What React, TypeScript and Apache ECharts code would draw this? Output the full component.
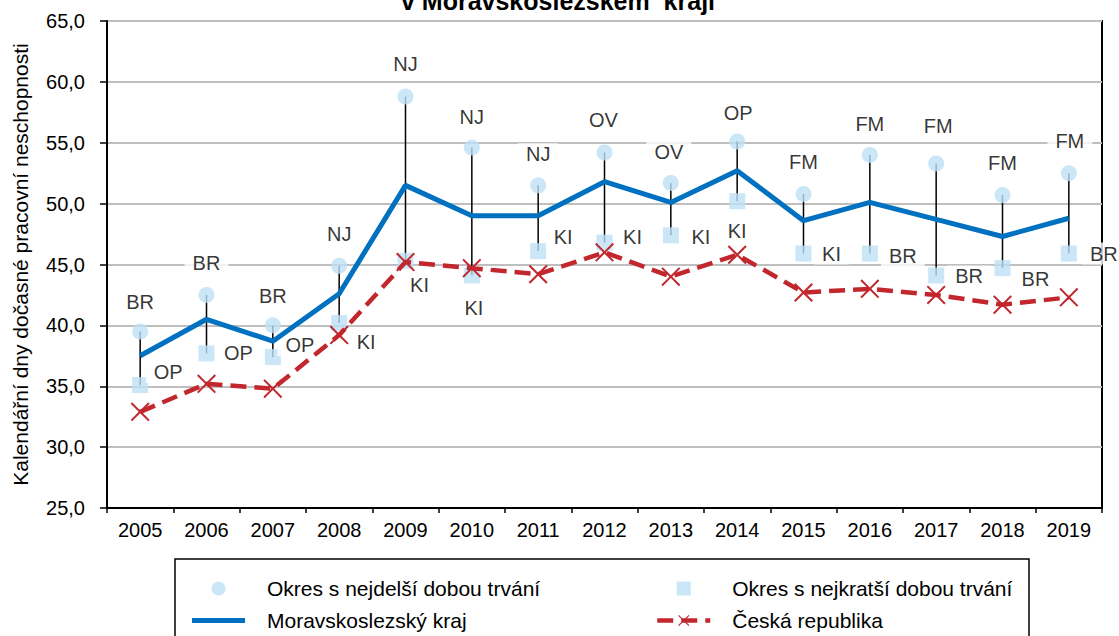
import React, { useEffect, useRef } from "react";
import * as echarts from "echarts";

const years = ["2005", "2006", "2007", "2008", "2009", "2010", "2011", "2012", "2013", "2014", "2015", "2016", "2017", "2018", "2019"];
const maxVals = [39.5, 42.5, 40.0, 44.9, 58.8, 54.6, 51.5, 54.2, 51.7, 55.1, 50.8, 54.0, 53.3, 50.7, 52.5];
const minVals = [35.1, 37.7, 37.4, 40.2, 45.3, 44.1, 46.1, 46.8, 47.4, 50.2, 45.9, 45.9, 44.1, 44.7, 45.9];
const mskVals = [37.5, 40.5, 38.7, 42.6, 51.5, 49.0, 49.0, 51.8, 50.1, 52.7, 48.6, 50.1, 48.7, 47.3, 48.8];
const crVals = [32.9, 35.2, 34.8, 39.2, 45.2, 44.7, 44.2, 46.0, 44.0, 45.8, 42.7, 43.0, 42.5, 41.7, 42.3];
const maxDistricts = ["BR", "BR", "BR", "NJ", "NJ", "NJ", "NJ", "OV", "OV", "OP", "FM", "FM", "FM", "FM", "FM"];
const minDistricts = ["OP", "OP", "OP", "KI", "KI", "KI", "KI", "KI", "KI", "KI", "KI", "BR", "BR", "BR", "BR"];

const NAME_MAX = "Okres s nejdelší dobou trvání";
const NAME_MIN = "Okres s nejkratší dobou trvání";
const NAME_MSK = "Moravskoslezský kraj";
const NAME_CR = "Česká republika";

// label nudges (layout only)
const maxLabelNudge: [number, number][] = [
  [0, -29], [0, -32], [0, -29], [0, -32], [0, -32], [0, -31], [0, -31], [-1, -32],
  [-2, -31], [1, -29], [0, -32], [0, -31], [2, -37], [0, -32], [1, -32],
];
const minLabelNudge: [number, number][] = [
  [28, -13], [32, 0], [27, -12], [27, 19], [14, 24], [2, 33], [25, -14], [28, -6],
  [30, 2], [0, 30], [28, 0], [33, 2], [33, 1], [33, 11], [35, 0],
];

const FONT = '"Liberation Sans", Arial, sans-serif';
const LIGHT = "#BDE0F5";
const BLUE = "#0070C0";
const RED = "#C1272D";
const XPATH =
  "path://M1.5,0 L10,8.5 L18.5,0 L20,1.5 L11.5,10 L20,18.5 L18.5,20 L10,11.5 L1.5,20 L0,18.5 L8.5,10 L0,1.5 Z";

export default function App() {
  const ref = useRef<HTMLDivElement>(null);
  useEffect(() => {
    if (!ref.current) return;
    const chart = echarts.init(ref.current, undefined, { renderer: "svg" });
    const labelBase = {
      show: true,
      position: "inside",
      fontSize: 20,
      fontFamily: FONT,
      color: "#000",
      backgroundColor: "#fff",
      padding: [1, 8],
    };
    const legendText = { fontSize: 21, fontFamily: FONT, color: "#000", lineHeight: 20, padding: [0, 0, 0, 17] };
    const legendBase = {
      orient: "vertical",
      top: 578,
      padding: 0,
      itemWidth: 53,
      itemHeight: 14,
      itemGap: 11,
      textStyle: legendText,
      selectedMode: false,
    };
    chart.setOption({
      animation: false,
      textStyle: { fontFamily: FONT },
      grid: { left: 107, right: 17, top: 21, bottom: 128, show: true, borderColor: "#000", borderWidth: 2 },
      xAxis: {
        type: "category",
        data: years,
        boundaryGap: true,
        axisLine: { lineStyle: { color: "#000", width: 2 } },
        axisTick: { show: true, length: 5, lineStyle: { color: "#000", width: 1.5 } },
        axisLabel: { color: "#000", fontSize: 20, fontFamily: FONT, margin: 12, interval: 0 },
        splitLine: { show: false },
      },
      yAxis: {
        type: "value",
        min: 25,
        max: 65,
        interval: 5,
        name: "Kalendářní dny dočasné pracovní neschopnosti",
        nameLocation: "middle",
        nameGap: 76,
        nameTextStyle: { fontSize: 21, color: "#000", fontFamily: FONT },
        axisLine: { show: true, lineStyle: { color: "#000", width: 2 } },
        axisTick: { show: true, length: 7, lineStyle: { color: "#000", width: 1.5 } },
        axisLabel: {
          fontSize: 20,
          color: "#000",
          fontFamily: FONT,
          margin: 22,
          formatter: (v: number) => v.toFixed(1).replace(".", ","),
        },
        splitLine: { lineStyle: { color: "#BFBFBF", width: 2 } },
      },
      legend: [
        {
          ...legendBase,
          left: 192,
          data: [
            NAME_MAX,
            { name: NAME_MSK, icon: "path://M0,0H53V5H0Z", itemStyle: { color: BLUE, borderWidth: 0 } },
          ],
        },
        {
          ...legendBase,
          left: 655,
          data: [
            { name: NAME_MIN, icon: "path://M0,0H10V10H0Z", itemStyle: { color: LIGHT, borderWidth: 0 } },
            { name: NAME_CR, lineStyle: { width: 4.5, type: [16, 8], color: RED } },
          ],
        },
      ],
      graphic: [
        {
          type: "text",
          x: 558,
          y: 1,
          style: {
            text: "v Moravskoslezském  kraji",
            fontSize: 25,
            fontWeight: "bold",
            fontFamily: FONT,
            fill: "#000",
            align: "center",
            verticalAlign: "middle",
          },
        },
        {
          type: "rect",
          shape: { x: 175, y: 559, width: 854, height: 90 },
          style: { fill: "none", stroke: "#000", lineWidth: 1.5 },
          silent: true,
        },
      ],
      series: [
        {
          type: "custom",
          name: "range",
          silent: true,
          data: years.map((_, i) => [i, maxVals[i], minVals[i]]),
          encode: { x: 0, y: [1, 2] },
          renderItem: (params: any, api: any) => {
            const i = api.value(0);
            const hi = api.coord([i, api.value(1)]);
            const lo = api.coord([i, api.value(2)]);
            return {
              type: "line",
              shape: { x1: hi[0], y1: hi[1], x2: lo[0], y2: lo[1] },
              style: { stroke: "#000", lineWidth: 1.5 },
            };
          },
        },
        {
          type: "line",
          name: NAME_CR,
          data: crVals,
          symbol: XPATH,
          symbolSize: 19,
          showSymbol: true,
          silent: true,
          lineStyle: { color: RED, width: 4.5, type: [16, 8] },
          itemStyle: { color: RED },
        },
        {
          type: "line",
          name: NAME_MSK,
          data: mskVals,
          symbol: "none",
          silent: true,
          lineStyle: { color: BLUE, width: 5 },
          itemStyle: { color: BLUE },
        },
        {
          type: "scatter",
          name: NAME_MAX,
          symbol: "circle",
          symbolSize: 16,
          silent: true,
          itemStyle: { color: LIGHT },
          data: maxVals.map((v, i) => ({ value: v, label: { offset: maxLabelNudge[i] } })),
          label: { ...labelBase, formatter: (p: any) => maxDistricts[p.dataIndex] },
        },
        {
          type: "scatter",
          name: NAME_MIN,
          symbol: "rect",
          symbolSize: 16,
          silent: true,
          itemStyle: { color: LIGHT },
          data: minVals.map((v, i) => ({ value: v, label: { offset: minLabelNudge[i] } })),
          label: { ...labelBase, formatter: (p: any) => minDistricts[p.dataIndex] },
        },
      ],
    });
    return () => chart.dispose();
  }, []);
  return <div ref={ref} style={{ width: 1119, height: 636, position: "absolute", left: 0, top: 0 }} />;
}
